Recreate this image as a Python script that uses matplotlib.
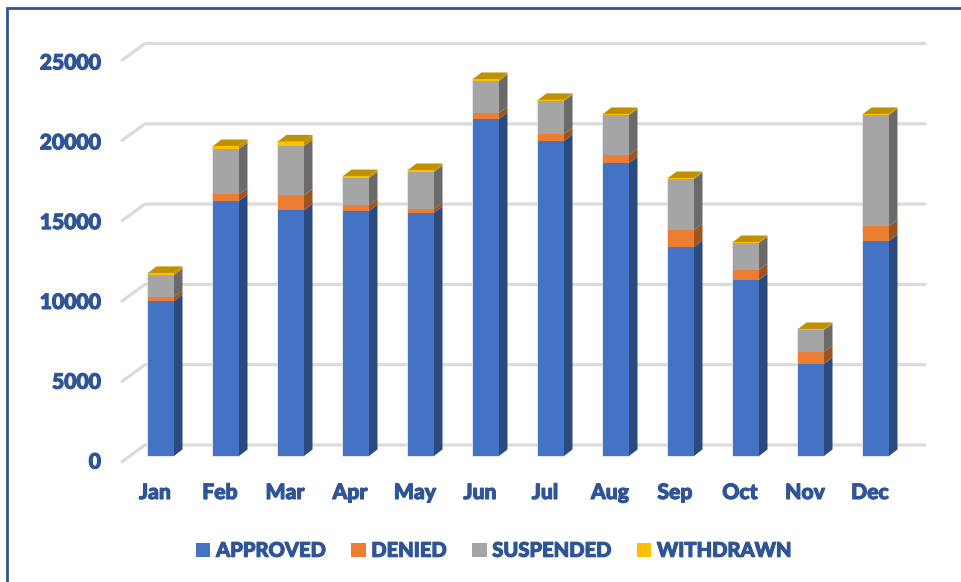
"""
:synopsis: Stacked pseudo-3D column chart of monthly application outcomes.
"""

# third party imports
from matplotlib import patheffects, pyplot
from matplotlib.patches import Rectangle
import numpy

MONTHS = ['Jan', 'Feb', 'Mar', 'Apr', 'May', 'Jun',
          'Jul', 'Aug', 'Sep', 'Oct', 'Nov', 'Dec']
APPROVED = [9650, 15880, 15300, 15255, 15130, 20985,
            19615, 18245, 13015, 10960, 5730, 13390]
DENIED = [250, 410, 935, 370, 250, 375, 435, 495, 1055, 620, 745, 930]
SUSPENDED = [1370, 2825, 3065, 1680, 2300, 1990,
             2055, 2490, 3180, 1685, 1370, 6910]
WITHDRAWN = [130, 190, 290, 125, 130, 125, 70, 70, 60, 60, 65, 70]
Y_TICKS = [0, 5000, 10000, 15000, 20000, 25000]

TEXT_COLOUR = '#2F5597'
FONT = 'Lato'

# name, values, front colour, side colour
SERIES = [('APPROVED', APPROVED, '#4472C4', '#2A4A80'),
          ('DENIED', DENIED, '#ED7D31', '#9C5522'),
          ('SUSPENDED', SUSPENDED, '#A5A5A5', '#6A6A6A'),
          ('WITHDRAWN', WITHDRAWN, '#FFC000', '#C09000')]

WIDTH_PX, HEIGHT_PX = 962, 582
PX_PER_MONTH = 65.0
PX_PER_UNIT = 0.01606
BAR_WIDTH = 0.4
BAR_DX = 8.5 / PX_PER_MONTH
BAR_DY = 6.5 / PX_PER_UNIT

# The reference text looks smeared, a thin stroke thickens the letters
HEAVY = [patheffects.withStroke(linewidth=0.8, foreground=TEXT_COLOUR)]


def plot_columns(ax):
    """Draw the front, side and top faces of every stacked column."""
    ind = numpy.arange(len(MONTHS))
    bottom = numpy.zeros(len(MONTHS))
    handles = []

    for name, values, colour, side in SERIES:
        values = numpy.array(values, dtype=float)
        top = bottom + values
        bars = ax.bar(ind, values, BAR_WIDTH, bottom=bottom, color=colour,
                      linewidth=0, label=name, zorder=3, clip_on=False)
        handles.append(bars)

        for x, y0, y1 in zip(ind + BAR_WIDTH / 2, bottom, top):
            ax.fill([x, x + BAR_DX, x + BAR_DX, x],
                    [y0, y0 + BAR_DY, y1 + BAR_DY, y1],
                    color=side, linewidth=0, zorder=4, clip_on=False)
        bottom = top

    # Faint light halo around the whole front of each column
    ax.bar(ind, bottom, BAR_WIDTH, fill=False, edgecolor='#DDE1E7',
           linewidth=1.2, zorder=2, clip_on=False)

    # Only the uppermost segment shows a top face
    for x, y in zip(ind, bottom):
        left = x - BAR_WIDTH / 2
        ax.fill([left, left + BAR_WIDTH, left + BAR_WIDTH + BAR_DX,
                 left + BAR_DX],
                [y, y, y + BAR_DY, y + BAR_DY],
                color=SERIES[-1][3], linewidth=0, zorder=4, clip_on=False)
    return handles


def plot_grid(ax, x_front, x_back, x_right):
    """Draw the floor-to-wall gridlines and the y tick labels."""
    front = -5.7 / PX_PER_UNIT
    back = 11.0 / PX_PER_UNIT
    for tick in Y_TICKS:
        ax.plot([x_front, x_back, x_right],
                [tick + front, tick + back, tick + back],
                color='#DBDBDB', linewidth=2.3, zorder=1,
                solid_capstyle='round', clip_on=False)
        # The labels sit on a slightly tighter spacing than the gridlines
        ax.text(x_front - 21 / PX_PER_MONTH,
                tick * 0.9938 - 6 / PX_PER_UNIT,
                str(tick), ha='right', va='center', color=TEXT_COLOUR,
                family=FONT, fontweight='black', fontsize=15.2,
                path_effects=HEAVY)


def main():
    fig = pyplot.figure(figsize=(WIDTH_PX / 100, HEIGHT_PX / 100), dpi=100)

    # Axes span the whole canvas so that data units map linearly onto pixels
    ax = fig.add_axes([0, 0, 1, 1])
    ax.set_xlim(-161 / PX_PER_MONTH, (WIDTH_PX - 161) / PX_PER_MONTH)
    ax.set_ylim((456 - HEIGHT_PX) / PX_PER_UNIT, 456 / PX_PER_UNIT)
    ax.axis('off')

    plot_grid(ax, (122 - 161) / PX_PER_MONTH, (145 - 161) / PX_PER_MONTH,
              (925 - 161) / PX_PER_MONTH)
    handles = plot_columns(ax)

    for i, month in enumerate(MONTHS):
        ax.text(i - 6 / PX_PER_MONTH, -36.5 / PX_PER_UNIT, month, ha='center',
                va='center', color=TEXT_COLOUR, family=FONT,
                fontweight='black', fontsize=15.2, path_effects=HEAVY)

    legend = ax.legend(handles=handles, loc='center', ncol=4, frameon=False,
                       bbox_to_anchor=(0.513, 0.0545),
                       handlelength=0.72, handleheight=0.72,
                       handletextpad=0.28, columnspacing=1.27,
                       labelcolor=TEXT_COLOUR,
                       prop={'family': FONT, 'weight': 'black', 'size': 14.5})
    for text in legend.get_texts():
        text.set_path_effects(HEAVY)

    # Chart frame, open to the right and bottom of the crop
    frame = Rectangle((6.7 / WIDTH_PX, -0.02), 1.1,
                      (HEIGHT_PX - 7.5) / HEIGHT_PX + 0.02,
                      transform=fig.transFigure, fill=False,
                      edgecolor=TEXT_COLOUR, linewidth=2, clip_on=False)
    fig.add_artist(frame)

    fig.savefig('out.png', dpi=100)


if __name__ == '__main__':
    main()
